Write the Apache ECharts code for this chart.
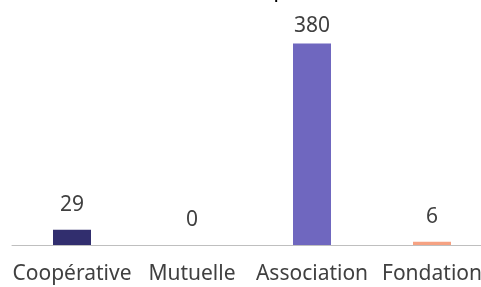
<!DOCTYPE html>
<html>
<head>
<meta charset="utf-8">
<script src="https://cdn.jsdelivr.net/npm/echarts@6/dist/echarts.min.js"></script>
<style>html,body{margin:0;padding:0;background:#fff}#c{width:481px;height:287px}</style>
</head>
<body>
<div id="c"></div>
<script>
const categories = ['Coopérative', 'Mutuelle', 'Association', 'Fondation'];
const values = [29, 0, 380, 6];
const barColors = ['#312E6E', '#5B57A6', '#6F67BF', '#F6A283'];
const labelGaps = [14, 14, 7, 14];
const titleText = 'Nombre de structures selon la structure porteuse et leur statut';

const chart = echarts.init(document.getElementById('c'), null, {renderer: 'canvas'});
chart.setOption({
  animation: false,
  title: {
    text: titleText, left: 6, top: -16,
    textStyle: {fontFamily: 'Noto Sans', fontWeight: 'bold', fontSize: 13, color: '#000'}
  },
  grid: {left: 12, width: 480, top: 33, bottom: 42, containLabel: false, outerBoundsMode: 'none'},
  xAxis: {
    type: 'category', data: categories,
    axisLine: {lineStyle: {color: '#BFBFBF', width: 1}},
    axisTick: {show: false},
    axisLabel: {color: '#404040', fontFamily: 'Noto Sans', fontSize: 21, margin: 19, interval: 0}
  },
  yAxis: {type: 'value', min: 0, max: 400, show: false, splitLine: {show: false}},
  series: [{
    type: 'bar', barWidth: 38,
    data: values.map((v, i) => ({value: v, itemStyle: {color: barColors[i]}, label: {distance: labelGaps[i]}})),
    label: {show: true, position: 'top', color: '#404040', fontFamily: 'Noto Sans', fontSize: 21}
  }]
});
</script>
</body>
</html>
